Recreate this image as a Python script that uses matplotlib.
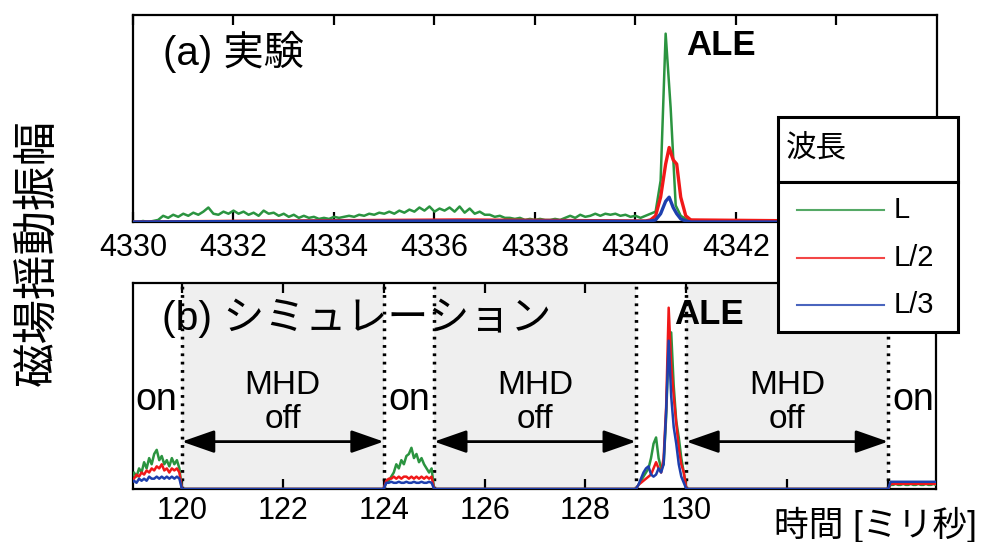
import numpy as np
import matplotlib
matplotlib.use('Agg')
import matplotlib.pyplot as plt
from matplotlib.patches import Rectangle

plt.rcParams['font.family'] = ['Liberation Sans', 'Noto Sans CJK JP']

GREEN = '#2b9440'
RED = '#f01818'
BLUE = '#1d3fae'

# (a) experiment: green sampled every 0.1 ms from 4330.0
green_exp = [
    0.0, 0.0, 0.005, 0.0, 0.005, 0.01, 0.03, 0.02, 0.035, 0.025,
    0.04, 0.03, 0.045, 0.035, 0.05, 0.07, 0.04, 0.035, 0.05, 0.04,
    0.055, 0.04, 0.05, 0.035, 0.045, 0.03, 0.055, 0.04, 0.045, 0.03,
    0.04, 0.025, 0.035, 0.02, 0.03, 0.02, 0.025, 0.015, 0.02, 0.015,
    0.025, 0.02, 0.025, 0.03, 0.025, 0.035, 0.03, 0.04, 0.035, 0.045,
    0.04, 0.05, 0.04, 0.055, 0.045, 0.06, 0.05, 0.07, 0.055, 0.075,
    0.05, 0.065, 0.055, 0.07, 0.05, 0.075, 0.045, 0.065, 0.04, 0.05,
    0.035, 0.035, 0.025, 0.03, 0.02, 0.02, 0.015, 0.02, 0.01, 0.015,
    0.01, 0.015, 0.01, 0.01, 0.015, 0.01, 0.02, 0.03, 0.02, 0.035,
    0.025, 0.03, 0.04, 0.03, 0.04, 0.035, 0.04, 0.03, 0.035, 0.025,
    0.03, 0.02, 0.03, 0.04, 0.05, 0.2, 0.91, 0.55, 0.08, 0.03,
    0.015, 0.01, 0.005, 0.0, 0.0, 0.0, 0.0, 0.0, 0.0, 0.0,
    0.0, 0.0, 0.0, 0.0, 0.0, 0.0, 0.0, 0.0, 0.0, 0.0,
    0.0, 0.0, 0.0, 0.0, 0.0, 0.0, 0.0, 0.0, 0.0, 0.0,
    0.0, 0.0, 0.0, 0.0, 0.0, 0.0, 0.0, 0.0, 0.0, 0.0,
    0.0, 0.0, 0.0, 0.0, 0.0, 0.0, 0.0, 0.0, 0.0, 0.0,
    0.0,
]
t_exp = np.linspace(4330.0, 4346.0, len(green_exp))

rb_exp_t = [4330.0, 4333.0, 4336.5, 4340.2, 4340.3, 4340.4, 4340.5,
            4340.6, 4340.67, 4340.75, 4340.82, 4340.9, 4341.0, 4341.1, 4346.0]
red_exp = [0.0, 0.005, 0.01, 0.005, 0.01, 0.03, 0.12,
           0.28, 0.36, 0.3, 0.28, 0.12, 0.03, 0.01, 0.0]
blue_exp = [0.0, 0.003, 0.005, 0.003, 0.005, 0.01, 0.04,
            0.1, 0.12, 0.07, 0.04, 0.015, 0.005, 0.0, 0.0]

# (b) simulation: four "MHD on" windows, 21 samples each
seg_starts = [119, 124, 129, 134]
green_sim = [
    0.05, 0.08, 0.06, 0.1, 0.08, 0.13, 0.1, 0.15, 0.12, 0.17, 0.19,
    0.14, 0.16, 0.12, 0.14, 0.11, 0.15, 0.12, 0.14, 0.1, 0.0,
    0.0, 0.03, 0.04, 0.06, 0.08, 0.12, 0.1, 0.14, 0.12, 0.16, 0.17,
    0.2, 0.15, 0.17, 0.13, 0.15, 0.12, 0.1, 0.08, 0.1, 0.0,
    0.0, 0.02, 0.04, 0.06, 0.08, 0.1, 0.15, 0.22, 0.25, 0.15, 0.1,
    0.12, 0.35, 0.7, 0.76, 0.5, 0.33, 0.25, 0.15, 0.08, 0.0,
    0.0, 0.02, 0.02, 0.025, 0.02, 0.02, 0.025, 0.02, 0.02, 0.025, 0.02,
    0.02, 0.025, 0.02, 0.02, 0.025, 0.02, 0.02, 0.025, 0.02, 0.02,
]
red_sim = [
    0.04, 0.05, 0.07, 0.06, 0.08, 0.07, 0.09, 0.08, 0.1, 0.09, 0.11,
    0.1, 0.12, 0.09, 0.1, 0.08, 0.1, 0.09, 0.1, 0.08, 0.0,
    0.0, 0.04, 0.05, 0.05, 0.06, 0.05, 0.06, 0.05, 0.06, 0.06, 0.05,
    0.06, 0.05, 0.06, 0.05, 0.06, 0.05, 0.06, 0.05, 0.06, 0.0,
    0.0, 0.02, 0.03, 0.04, 0.05, 0.06, 0.07, 0.1, 0.13, 0.1, 0.08,
    0.15, 0.4, 0.88, 0.6, 0.45, 0.32, 0.2, 0.12, 0.08, 0.0,
    0.0, 0.025, 0.025, 0.025, 0.025, 0.025, 0.025, 0.025, 0.025, 0.025, 0.025,
    0.025, 0.025, 0.025, 0.025, 0.025, 0.025, 0.025, 0.025, 0.025, 0.025,
]
blue_sim = [
    0.03, 0.04, 0.03, 0.05, 0.04, 0.05, 0.04, 0.06, 0.05, 0.05, 0.06,
    0.05, 0.06, 0.05, 0.06, 0.05, 0.06, 0.05, 0.06, 0.05, 0.0,
    0.0, 0.03, 0.03, 0.035, 0.03, 0.03, 0.035, 0.03, 0.03, 0.035, 0.03,
    0.03, 0.035, 0.03, 0.03, 0.035, 0.03, 0.03, 0.035, 0.03, 0.0,
    0.0, 0.02, 0.05, 0.08, 0.1, 0.11, 0.07, 0.06, 0.07, 0.1, 0.08,
    0.12, 0.38, 0.72, 0.45, 0.3, 0.22, 0.12, 0.06, 0.03, 0.0,
    0.0, 0.035, 0.035, 0.035, 0.035, 0.035, 0.035, 0.035, 0.035, 0.035, 0.035,
    0.035, 0.035, 0.035, 0.035, 0.035, 0.035, 0.035, 0.035, 0.035, 0.035,
]
t_sim = np.concatenate([np.linspace(s, s + 1, 21) for s in seg_starts])

off_spans = [(120, 124), (125, 129), (130, 134)]
on_centers = [119.5, 124.5, 134.5]
legend_labels = ['L', 'L/2', 'L/3']
legend_colors = [GREEN, RED, BLUE]

fig = plt.figure(figsize=(9.83, 5.42), dpi=100)
ax1 = fig.add_axes([0.1353, 0.5904, 0.8179, 0.3819])
ax2 = fig.add_axes([0.1353, 0.0978, 0.8169, 0.3801])

for ax in (ax1, ax2):
    ax.set_ylim(0, 1)
    ax.set_yticks([])
    ax.tick_params(axis='x', direction='in', top=True, length=7, width=1.6,
                   labelsize=22)
    for s in ax.spines.values():
        s.set_linewidth(1.6)

# --- (a) experiment
ax1.plot(t_exp, green_exp, color=GREEN, lw=1.8, zorder=3)
ax1.plot(rb_exp_t, red_exp, color=RED, lw=2.4, zorder=3)
ax1.plot(rb_exp_t, blue_exp, color=BLUE, lw=2.4, zorder=3)
ax1.set_xlim(4330, 4346)
ax1.set_xticks(range(4330, 4345, 2))
ax1.tick_params(axis='x', pad=8)
ax1.text(4330.6, 0.82, '(a) 実験', fontsize=29, va='center')
ax1.text(4341.0, 0.855, 'ALE', fontsize=25, fontweight='bold', va='center')

# --- (b) simulation
for a, b in off_spans:
    ax2.axvspan(a, b, color='#efefef', zorder=0, lw=0)
    ax2.axvline(a, color='k', ls=(0, (0.8, 1.6)), lw=2.5, zorder=2.6)
    ax2.axvline(b, color='k', ls=(0, (0.8, 1.6)), lw=2.5, zorder=2.6)
    ax2.annotate('', xy=(a, 0.23), xytext=(b, 0.23),
                 arrowprops=dict(arrowstyle='<|-|>,head_length=1.0,head_width=0.35',
                                 color='k', lw=2, mutation_scale=20,
                                 shrinkA=0, shrinkB=0))
    ax2.text((a + b) / 2, 0.42, 'MHD\noff', fontsize=24, ha='center',
             va='center', linespacing=1.1)
for x in on_centers:
    ax2.text(x, 0.43, 'on', fontsize=27, ha='center', va='center')

ax2.plot(t_sim, green_sim, color=GREEN, lw=1.8, zorder=3)
ax2.plot(t_sim, red_sim, color=RED, lw=1.8, zorder=3)
ax2.plot(t_sim, blue_sim, color=BLUE, lw=1.8, zorder=3)
ax2.set_xlim(119.03, 134.95)
ax2.set_xticks(range(120, 135, 2))
ax2.set_xticklabels(['120', '122', '124', '126', '128', '130', '', ''])
ax2.tick_params(axis='x', pad=5)
ax2.text(119.6, 0.83, '(b) シミュレーション', fontsize=29.5, va='center', zorder=1)
ax2.text(129.75, 0.845, 'ALE', fontsize=25, fontweight='bold', va='center')

# --- legend box with separate title cell
lax = fig.add_axes([0.7915, 0.3875, 0.1831, 0.3966])
lax.set_xlim(0, 1)
lax.set_ylim(0, 1)
lax.axis('off')
lax.add_patch(Rectangle((0, 0.698), 1, 0.302, fc='white', ec='k', lw=2.2, clip_on=False))
lax.add_patch(Rectangle((0, 0), 1, 0.698, fc='white', ec='k', lw=2.2, clip_on=False))
lax.text(0.045, 0.856, '波長', fontsize=22, va='center')
for y, lab, c in zip([0.567, 0.344, 0.126], legend_labels, legend_colors):
    lax.plot([0.105, 0.589], [y, y], color=c, lw=1.5, alpha=0.8)
    lax.text(0.64, y, lab, fontsize=21, va='center')

fig.text(0.038, 0.535, '磁場揺動振幅', rotation=90, fontsize=32,
         ha='center', va='center')
fig.text(0.994, 0.031, '時間 [ミリ秒]', fontsize=25, ha='right', va='center')

fig.savefig('out.png', dpi=100)
